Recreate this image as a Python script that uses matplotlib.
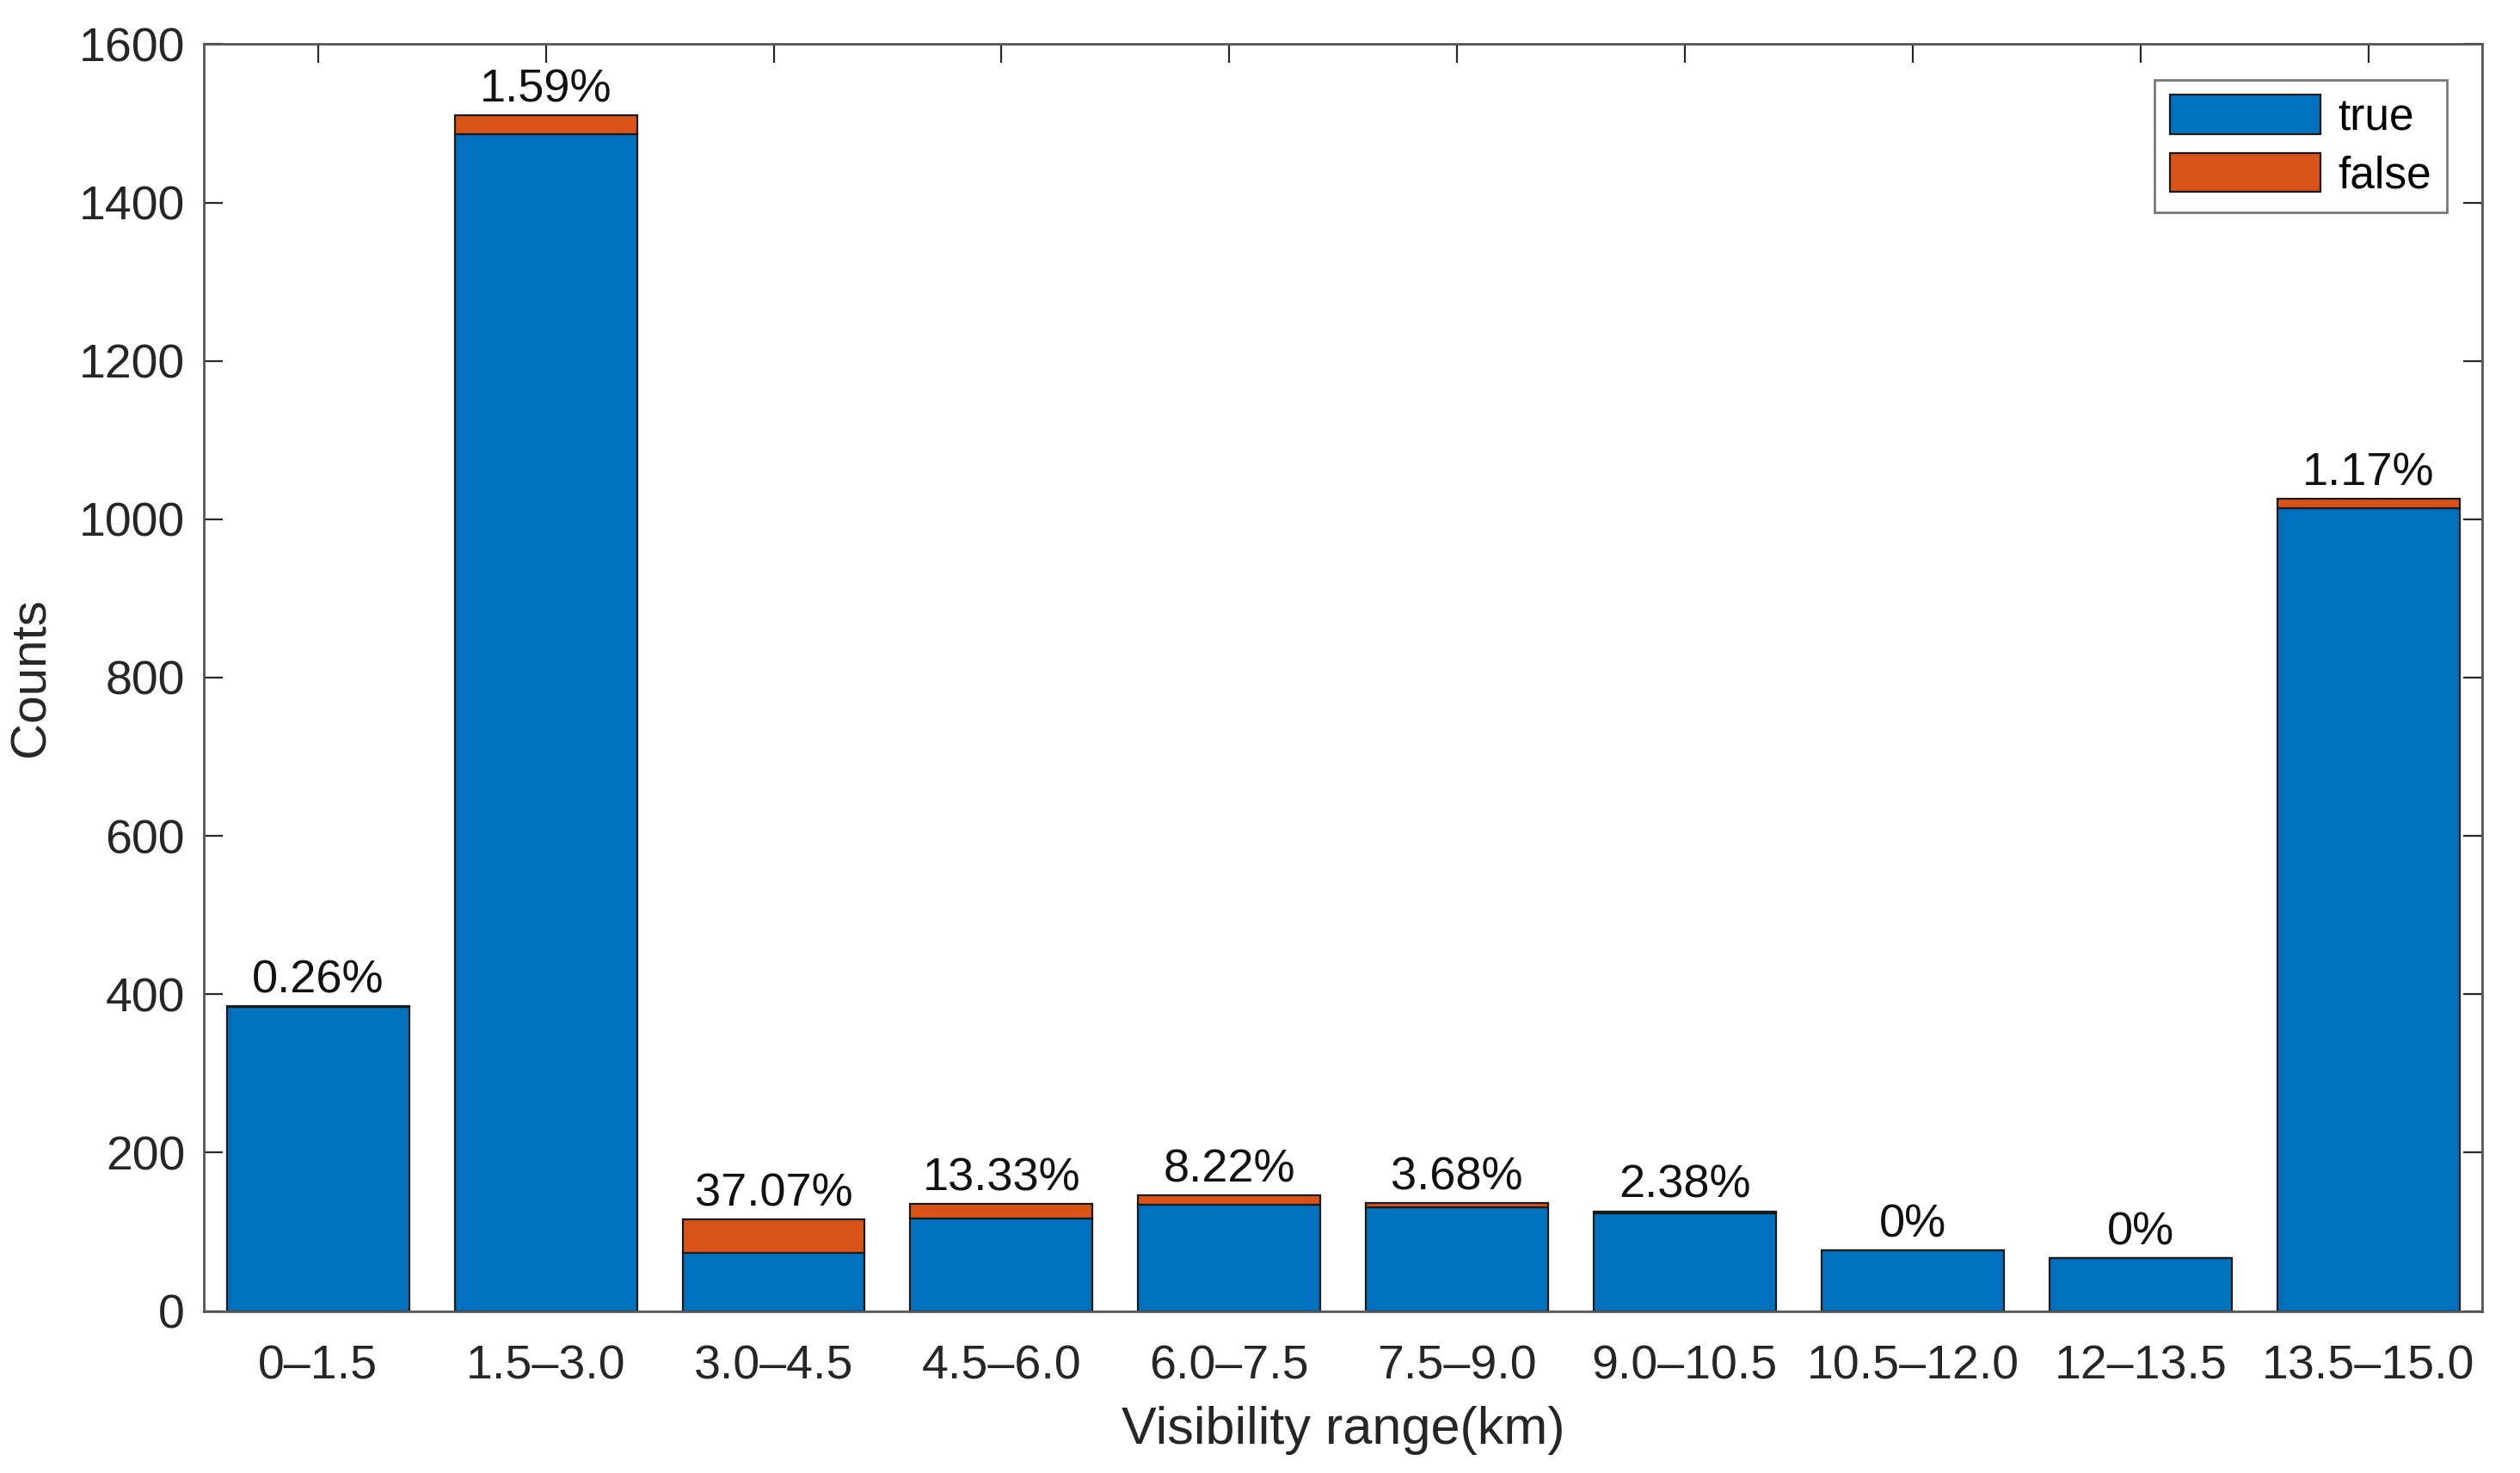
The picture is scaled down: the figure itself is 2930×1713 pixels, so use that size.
import numpy as np
import matplotlib.pyplot as plt

plt.rcParams['font.family'] = ['Liberation Sans', 'DejaVu Sans']

# visibility bins and counts
ranges = ["0\u20131.5", "1.5\u20133.0", "3.0\u20134.5", "4.5\u20136.0", "6.0\u20137.5",
          "7.5\u20139.0", "9.0\u201310.5", "10.5\u201312.0", "12\u201313.5", "13.5\u201315.0"]
true_counts = [384, 1486, 73, 117, 134, 131, 123, 77, 67, 1014]
false_counts = [1, 24, 43, 18, 12, 5, 3, 0, 0, 12]
pct_labels = ["0.26%", "1.59%", "37.07%", "13.33%", "8.22%",
              "3.68%", "2.38%", "0%", "0%", "1.17%"]

blue = "#0072BD"
orange = "#D95319"
axcol = "#262626"

fig = plt.figure(figsize=(14.65, 8.565), dpi=200)
ax = fig.add_axes([0.081, 0.110, 0.904, 0.860])

x = np.arange(1, len(ranges) + 1)
ax.bar(x, true_counts, width=0.8, color=blue, edgecolor="#1a1a1a", linewidth=0.8,
       label="true", zorder=2)
ax.bar(x, false_counts, width=0.8, bottom=true_counts, color=orange,
       edgecolor="#1a1a1a", linewidth=0.8, label="false", zorder=2)

totals = np.array(true_counts) + np.array(false_counts)
for xi, tot, lab in zip(x, totals, pct_labels):
    ax.text(xi, tot + 5, lab, ha="center", va="bottom", fontsize=19.5, color="#111111")

ax.set_xlim(0.5, 10.5)
ax.set_ylim(0, 1600)
ax.set_xticks(x)
ax.set_xticklabels(ranges)
ax.set_yticks(np.arange(0, 1601, 200))
ax.tick_params(direction="in", length=8, width=0.8, colors=axcol, labelsize=20,
               top=True, right=True, pad=8)
ax.tick_params(axis="x", pad=14)
for s in ax.spines.values():
    s.set_color("#555555")
    s.set_linewidth(1.0)
    s.set_zorder(3)

ax.set_xlabel("Visibility range(km)", fontsize=22, color=axcol, labelpad=7)
ax.set_ylabel("Counts", fontsize=21, color=axcol, labelpad=10)

leg = ax.legend(loc="upper right", fontsize=18.5, handlelength=3.4, handleheight=1.0,
                borderaxespad=0.8, fancybox=False, edgecolor="#555555",
                handletextpad=0.4, labelspacing=0.3, borderpad=0.35)
leg.get_frame().set_linewidth(1.0)

fig.savefig("out.png", dpi=200)
